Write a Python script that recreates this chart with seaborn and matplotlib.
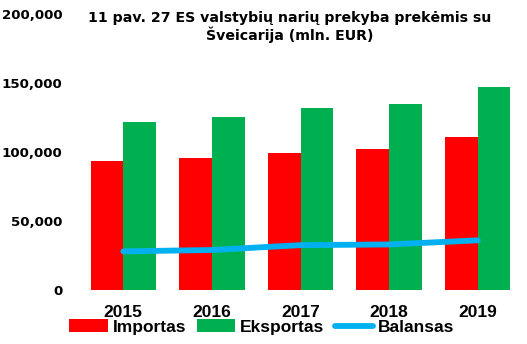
import matplotlib
matplotlib.use("Agg")
import matplotlib.pyplot as plt
import seaborn as sns
import pandas as pd
from matplotlib.patches import Patch
from matplotlib.lines import Line2D
from matplotlib.ticker import FuncFormatter

years = ["2015", "2016", "2017", "2018", "2019"]
importas = [93500, 96000, 99500, 102500, 111000]
eksportas = [121500, 125000, 132000, 135000, 147000]
balansas = [28000, 29000, 32500, 33000, 36000]
series_names = ["Importas", "Eksportas", "Balansas"]
title = "11 pav. 27 ES valstybių narių prekyba prekėmis su\nŠveicarija (mln. EUR)"

RED, GREEN, BLUE = "#FF0000", "#00B050", "#00B0F0"

sns.set_theme(style="white")
plt.rcParams["font.family"] = ["Liberation Sans", "DejaVu Sans"]
plt.rcParams["text.color"] = "black"

df = pd.DataFrame({
    "year": years * 2,
    "value": importas + eksportas,
    "series": [series_names[0]] * len(years) + [series_names[1]] * len(years),
})

fig = plt.figure(figsize=(5.27, 3.44), dpi=100)
ax = fig.add_axes([79 / 527, 54 / 344, 443 / 527, 276 / 344])

sns.barplot(data=df, x="year", y="value", hue="series", order=years,
            hue_order=series_names[:2], palette=[RED, GREEN], width=0.74,
            saturation=1, ax=ax, legend=False, errorbar=None, linewidth=0)
sns.pointplot(x=years, y=balansas, order=years, color=BLUE, markers="",
              linewidth=4.2, ax=ax, errorbar=None)
for ln in ax.lines:
    ln.set_solid_capstyle("round")

ax.set_ylim(0, 200000)
ax.set_yticks([0, 50000, 100000, 150000, 200000])
ax.yaxis.set_major_formatter(FuncFormatter(lambda v, p: f"{int(v):,}"))
ax.set_xlabel("")
ax.set_ylabel("")
for s in ax.spines.values():
    s.set_visible(False)
ax.tick_params(axis="y", length=0, pad=12)
ax.tick_params(axis="x", length=0, pad=11)
for lab in ax.get_yticklabels():
    lab.set_fontfamily(["DejaVu Sans"])
    lab.set_fontweight("bold")
    lab.set_fontsize(9.6)
    lab.set_color("black")
for lab in ax.get_xticklabels():
    lab.set_fontweight("bold")
    lab.set_fontsize(12.5)
    lab.set_color("black")

fig.text(290 / 527, 1 - 27 / 344, title, ha="center", va="center",
         fontsize=10.2, fontweight="bold", family=["DejaVu Sans"],
         linespacing=1.15, color="black")

handles = [Patch(facecolor=RED, edgecolor="none"),
           Patch(facecolor=GREEN, edgecolor="none"),
           Line2D([0], [0], color=BLUE, lw=4.2, solid_capstyle="round")]
leg = fig.legend(handles, series_names, loc="center", bbox_to_anchor=(262 / 527, 1 - 327 / 344),
                 ncol=3, frameon=False, handlelength=2.2, handletextpad=0.3,
                 columnspacing=0.6, prop={"weight": "bold", "size": 12.5})
for t in leg.get_texts():
    t.set_color("black")

fig.savefig("out.png", dpi=100)
